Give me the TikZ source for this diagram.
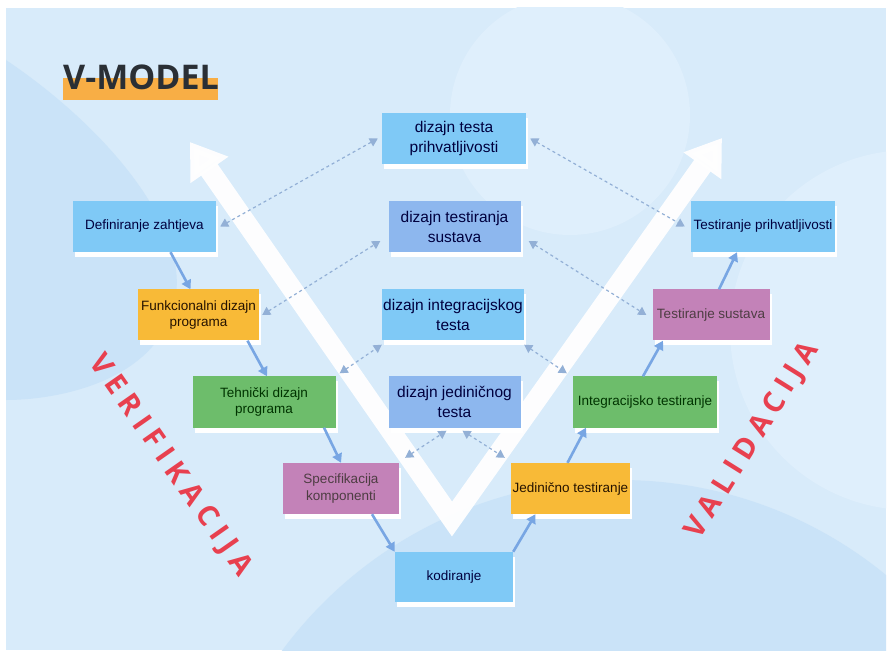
\documentclass[tikz,border=0pt]{standalone}
\usepackage{fontspec}
\setmainfont{Liberation Sans}
\newfontfamily\titlefont{Open Sans}
\newfontfamily\sidefont[LetterSpace=24]{Open Sans}
\usepackage{tikz}
\usetikzlibrary{arrows.meta, shadows}

\definecolor{bgBlue}{HTML}{D8EBFA}
\definecolor{bgDeep}{HTML}{CAE3F8}
\definecolor{bgLight}{HTML}{DFEFFC}
\definecolor{boxBlue}{HTML}{7FC9F6}
\definecolor{boxPeri}{HTML}{8DB7EE}
\definecolor{boxOrange}{HTML}{F8BA37}
\definecolor{boxGreen}{HTML}{6DBD6B}
\definecolor{boxMauve}{HTML}{C382B8}
\definecolor{flowBlue}{HTML}{78A6E3}
\definecolor{linkBlue}{HTML}{93B0D6}
\definecolor{titleOrange}{HTML}{F8AE45}
\definecolor{titleDark}{HTML}{2A2F35}
\definecolor{sideRed}{HTML}{E8404F}

\begin{document}
\begin{tikzpicture}[x=1pt, y=-1pt,
  box/.style={rectangle, inner sep=0pt, minimum height=51pt, align=center, font=\fontsize{13.5}{16.5}\selectfont, drop shadow={shadow xshift=2pt, shadow yshift=-5pt, fill=white, opacity=1}},
  bigbox/.style={box, font=\fontsize{15.5}{20}\selectfont},
  bluebox/.style={fill=boxBlue, text=black!30!blue!35!black},
  peribox/.style={fill=boxPeri, text=black!30!blue!35!black},
  orangebox/.style={fill=boxOrange, text=black!85!orange},
  greenbox/.style={fill=boxGreen, text=black!80!green},
  mauvebox/.style={fill=boxMauve, text=black!80!magenta},
  flow/.style={draw=flowBlue, line width=2.6pt, -{Triangle[width=10pt,length=9pt]}},
  link/.style={draw=linkBlue, line width=1.2pt, dash pattern=on 3pt off 3pt, {Triangle[width=9pt,length=8pt]}-{Triangle[width=9pt,length=8pt]}},
  sidetext/.style={text=sideRed, font=\sidefont\bfseries\fontsize{29}{29}\selectfont}]

\useasboundingbox (0,0) rectangle (892,660);
\fill[white] (0,0) rectangle (892,660);
\fill[bgBlue] (6,8) rectangle (886,650);
\begin{scope}
\clip (6,8) rectangle (886,650);
\fill[bgDeep] (6,60) .. controls (110,130) and (190,230) .. (175,300) .. controls (160,380) and (60,400) .. (6,400) -- cycle;
\fill[bgLight] (570,115) circle (120);
\fill[bgLight] (910,330) circle (180);
\fill[bgDeep] (620,900) circle (420);
\end{scope}

\fill[titleOrange] (63,78) rectangle (218,100);
\node[font=\titlefont\bfseries\fontsize{34}{34}\selectfont, text=titleDark, anchor=base] (title) at (141,90) {V-MODEL};

\coordinate (leftTip) at (190,142);
\coordinate (vBottom) at (452,519);
\coordinate (rightTip) at (722,138);
\draw[white, opacity=0.95, line width=20pt, line join=miter, {Triangle[width=44pt,length=34pt]}-{Triangle[width=44pt,length=34pt]}] (leftTip) -- (vBottom) -- (rightTip);

\node[bigbox, bluebox, minimum width=144pt] (dtp) at (454,138.5) {dizajn testa\\prihvatljivosti};
\node[bigbox, peribox, minimum width=132pt] (dts) at (454.5,227) {dizajn testiranja\\sustava};
\node[bigbox, bluebox, minimum width=142pt] (dit) at (453,315) {dizajn integracijskog\\testa};
\node[bigbox, peribox, minimum width=132pt] (djt) at (454.5,402) {dizajn jediničnog\\testa};

\node[box, bluebox, minimum width=143pt] (dz) at (144.5,226.5) {Definiranje zahtjeva};
\node[box, orangebox, minimum width=121pt] (fd) at (198.5,315) {Funkcionalni dizajn\\programa};
\node[box, greenbox, minimum width=143pt] (td) at (264,402) {Tehnički dizajn\\programa};
\node[box, mauvebox, minimum width=116pt] (sk) at (341,488.5) {Specifikacija\\komponenti};
\node[box, bluebox, minimum width=118pt, minimum height=50pt] (kod) at (454,577) {kodiranje};
\node[box, orangebox, minimum width=119pt] (jt) at (570.5,488.5) {Jedinično testiranje};
\node[box, greenbox, minimum width=144pt] (it) at (645,402) {Integracijsko testiranje};
\node[box, mauvebox, minimum width=117pt] (ts) at (711,315) {Testiranje sustava};
\node[box, bluebox, minimum width=144pt] (tp) at (763,226.5) {Testiranje prihvatljivosti};

\draw[flow] ([xshift=26pt]dz.south) -- ([xshift=-8pt]fd.north);
\draw[flow] ([xshift=49pt]fd.south) -- ([xshift=3pt]td.north);
\draw[flow] ([xshift=60pt]td.south) -- (sk.north);
\draw[flow] ([xshift=31pt]sk.south) -- (kod.north west);
\draw[flow] (kod.north east) -- ([xshift=-35pt]jt.south);
\draw[flow] ([xshift=-3pt]jt.north) -- ([xshift=-59pt]it.south);
\draw[flow] ([xshift=-2pt]it.north) -- ([xshift=-48pt]ts.south);
\draw[flow] ([xshift=8pt]ts.north) -- ([xshift=-26pt]tp.south);

\draw[link] ([xshift=4pt]dz.east) -- ([xshift=-4pt]dtp.west);
\draw[link] ([xshift=4pt]dtp.east) -- ([xshift=-6pt]tp.west);
\draw[link] ([xshift=3pt]fd.east) -- ([xshift=-8pt,yshift=-14pt]dts.west);
\draw[link] ([xshift=8pt,yshift=-14pt]dts.east) -- ([xshift=-6pt]ts.west);
\draw[link] ([xshift=4pt,yshift=3pt]td.north east) -- ([yshift=-4pt]dit.south west);
\draw[link] ([yshift=-4pt]dit.south east) -- ([xshift=-6pt,yshift=3pt]it.north west);
\draw[link] ([xshift=6pt,yshift=5pt]sk.north east) -- ([xshift=-8pt,yshift=-3pt]djt.south);
\draw[link] ([xshift=8pt,yshift=-3pt]djt.south) -- ([xshift=-6pt,yshift=5pt]jt.north west);

\node[sidetext, rotate=-55] (verif) at (170,466) {VERIFIKACIJA};
\node[sidetext, rotate=58] (valid) at (753,441) {VALIDACIJA};
\end{tikzpicture}
\end{document}
